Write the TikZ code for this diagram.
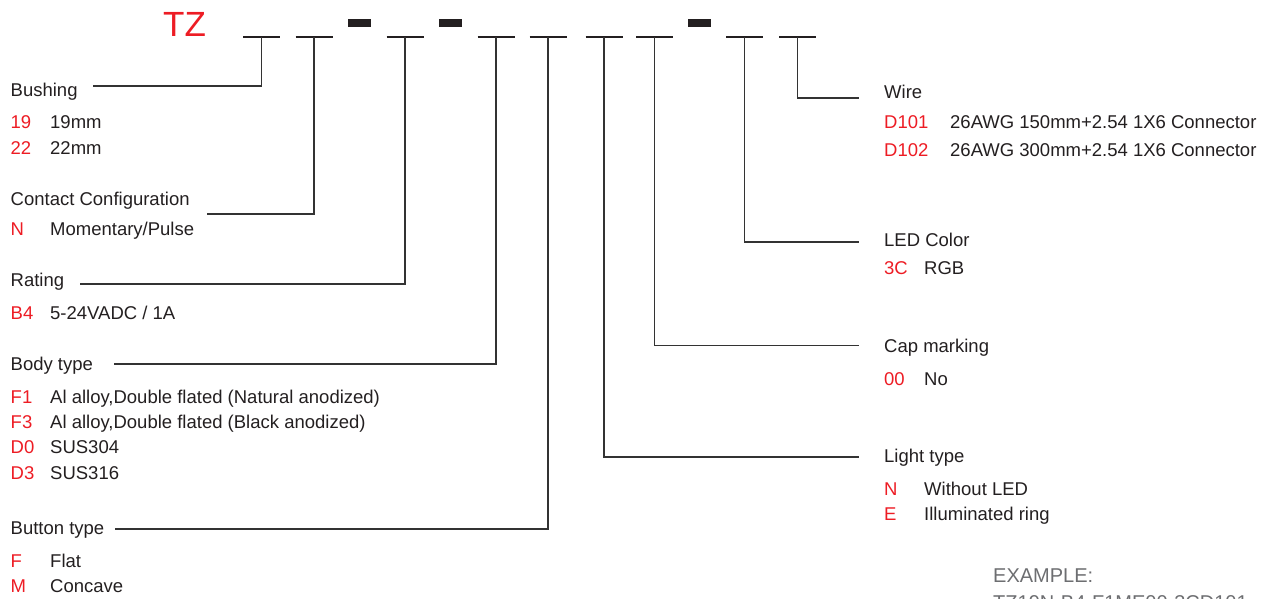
\documentclass[tikz,border=0pt]{standalone}
\usepackage{fontspec}
\setmainfont{Liberation Sans}
\definecolor{ink}{HTML}{231F20}
\definecolor{wire}{HTML}{333333}
\definecolor{codered}{HTML}{ED1C24}
\definecolor{exgray}{HTML}{6D6E71}
\begin{document}
\begin{tikzpicture}[x=1pt,y=-1pt,
  txt/.style={anchor=base west,inner sep=0pt,font=\fontsize{18.5}{22}\selectfont,text=ink},
  code/.style={txt,text=codered},
  conn/.style={draw=wire,line width=1.15pt},
  uline/.style={draw=ink,line width=2pt},
  dashbar/.style={fill=ink,draw=none}]
\useasboundingbox (0,0) rectangle (1277,599);
% title
\node[anchor=base west,inner sep=0pt,font=\fontsize{35}{40}\selectfont,text=codered] (tz) at (163,37) {TZ};
% segment junctions
\foreach \n/\c in {s1/261.5,s2/314,s3/405,s4/496,s5/548,s6/604,s7/654.5,s8/744.5,s9/797.5}{
  \coordinate (\n) at (\c,37);
  \draw[uline] (\c-18.5,37) -- (\c+18.5,37);
}
\foreach \c in {359.5,450.5,699.5}{
  \fill[dashbar] (\c-11.5,19.5) rectangle (\c+11.5,26.7);
}
% left labels
\node[txt] (bushing) at (10.5,96.5) {Bushing};
\node[code] (c19) at (10.5,128.5) {19};
\node[txt] (d19) at (50,128.5) {19mm};
\node[code] (c22) at (10.5,154.5) {22};
\node[txt] (d22) at (50,154.5) {22mm};
\node[txt] (contact) at (10.5,205.5) {Contact Configuration};
\node[code] (cN) at (10.5,235.5) {N};
\node[txt] (dN) at (50,235.5) {Momentary/Pulse};
\node[txt] (rating) at (10.5,286.5) {Rating};
\node[code] (cB4) at (10.5,319.5) {B4};
\node[txt] (dB4) at (50,319.5) {5-24VADC / 1A};
\node[txt] (body) at (10.5,370.5) {Body type};
\node[code] (cF1) at (10.5,403.5) {F1};
\node[txt] (dF1) at (50,403.5) {Al alloy,Double flated (Natural anodized)};
\node[code] (cF3) at (10.5,428.5) {F3};
\node[txt] (dF3) at (50,428.5) {Al alloy,Double flated (Black anodized)};
\node[code] (cD0) at (10.5,453.5) {D0};
\node[txt] (dD0) at (50,453.5) {SUS304};
\node[code] (cD3) at (10.5,479) {D3};
\node[txt] (dD3) at (50,479) {SUS316};
\node[txt] (button) at (10.5,534) {Button type};
\node[code] (cF) at (10.5,567.5) {F};
\node[txt] (dF) at (50,567.5) {Flat};
\node[code] (cM) at (10.5,592) {M};
\node[txt] (dM) at (50,592) {Concave};
% right labels
\node[txt] (wire) at (884,99) {Wire};
\node[code] (cD101) at (884,128.5) {D101};
\node[txt] (dD101) at (950,128.5) {26AWG 150mm+2.54 1X6 Connector};
\node[code] (cD102) at (884,157) {D102};
\node[txt] (dD102) at (950,157) {26AWG 300mm+2.54 1X6 Connector};
\node[txt] (led) at (884,246.5) {LED Color};
\node[code] (c3C) at (884,274.5) {3C};
\node[txt] (d3C) at (924,274.5) {RGB};
\node[txt] (cap) at (884,352.5) {Cap marking};
\node[code] (c00) at (884,385.5) {00};
\node[txt] (d00) at (924,385.5) {No};
\node[txt] (light) at (884,462.5) {Light type};
\node[code] (cLN) at (884,495) {N};
\node[txt] (dLN) at (924,495) {Without LED};
\node[code] (cLE) at (884,520) {E};
\node[txt] (dLE) at (924,520) {Illuminated ring};
% example
\node[anchor=base west,inner sep=0pt,font=\fontsize{20}{24}\selectfont,text=exgray] (ex) at (993,582) {EXAMPLE:};
\node[anchor=base west,inner sep=0pt,font=\fontsize{20}{24}\selectfont,text=exgray] (exv) at (993,609) {TZ19N-B4-F1ME00-3CD101};
% connector ends
\coordinate (eBush) at (93,86);
\coordinate (eCont) at (207,214);
\coordinate (eRat) at (80,284);
\coordinate (eBody) at (114,364);
\coordinate (eBut) at (115,529);
\coordinate (eWire) at (859,98);
\coordinate (eLed) at (859,242);
\coordinate (eCap) at (859,345.5);
\coordinate (eLight) at (859,457);
% connectors
\draw[conn] (s1) |- (eBush);
\draw[conn] (s2) |- (eCont);
\draw[conn] (s3) |- (eRat);
\draw[conn] (s4) |- (eBody);
\draw[conn] (s5) |- (eBut);
\draw[conn] (s6) |- (eLight);
\draw[conn] (s7) |- (eCap);
\draw[conn] (s8) |- (eLed);
\draw[conn] (s9) |- (eWire);
\end{tikzpicture}
\end{document}
